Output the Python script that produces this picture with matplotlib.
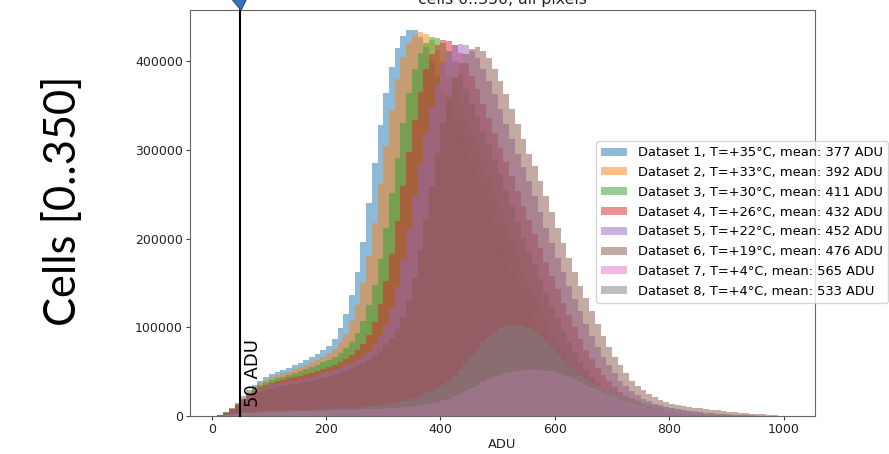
import numpy as np
import matplotlib
matplotlib.use("Agg")
import matplotlib.pyplot as plt
from matplotlib.patches import Polygon

# ---------------- data (pixel counts per 10-ADU bin, bins start at 0,10,...,1000) ----------------
bin_edges = list(range(0, 1011, 10))

ds1 = [0, 1500, 4500, 9000, 15000, 22000, 29000, 35000, 40000, 44000,
       47000, 49500, 52000, 54500, 57000, 60000, 63000, 66500, 70000, 74000,
       79000, 87000, 99000, 115000, 137000, 163000, 196000, 240000, 285000, 328000,
       364000, 394000, 415000, 429000, 436000, 435000, 428000, 416000, 401000, 384000,
       367000, 351000, 335000, 319000, 302000, 285000, 267000, 249000, 231000, 213000,
       196000, 179000, 163000, 147000, 132000, 117000, 103000, 90000, 78000, 67000,
       57000, 48000, 40500, 34000, 28500, 23800, 19800, 16500, 13700, 11300,
       9300, 7700, 6300, 5200, 4200, 3400, 2800, 2200, 1800, 1400,
       1100, 850, 650, 480, 350, 250, 170, 110, 60, 30,
       0, 0, 0, 0, 0, 0, 0, 0, 0, 0, 0]

ds2 = [0, 1400, 4200, 8500, 14000, 20500, 27000, 33000, 37500, 41000,
       43500, 46000, 48000, 50000, 52500, 55000, 57500, 60500, 63500, 67000,
       71000, 76000, 83000, 93000, 107000, 125000, 150000, 180000, 218000, 262000,
       305000, 345000, 380000, 405000, 421000, 430000, 433000, 431000, 424000, 413000,
       399000, 383000, 367000, 351000, 336000, 320000, 303000, 286000, 268000, 250000,
       232000, 214000, 197000, 181000, 165000, 149000, 134000, 119000, 105000, 92000,
       80000, 69000, 59000, 50000, 42000, 35500, 30000, 25000, 21000, 17500,
       14500, 12000, 10000, 8200, 6800, 5600, 4600, 3800, 3100, 2500,
       2000, 1600, 1250, 950, 700, 500, 350, 230, 140, 80,
       40, 0, 0, 0, 0, 0, 0, 0, 0, 0, 0]

ds3 = [0, 1300, 4000, 8000, 13000, 19000, 25000, 30500, 35000, 38000,
       40500, 42500, 44500, 46500, 48500, 50500, 52500, 55000, 57500, 60500,
       63500, 67000, 71500, 77000, 84000, 94000, 107000, 125000, 148000, 177000,
       212000, 251000, 291000, 330000, 364000, 391000, 410000, 421000, 427000, 426000,
       421000, 412000, 400000, 385000, 369000, 352000, 337000, 322000, 306000, 290000,
       273000, 255000, 237000, 219000, 201000, 186000, 170000, 154000, 139000, 124000,
       110000, 96000, 83000, 71000, 61000, 52000, 44000, 37000, 31000, 26000,
       21500, 18000, 15000, 12400, 10300, 8500, 7000, 5800, 4800, 3900,
       3200, 2600, 2100, 1600, 1200, 900, 600, 400, 250, 150,
       80, 40, 0, 0, 0, 0, 0, 0, 0, 0, 0]

ds4 = [0, 1200, 3700, 7500, 12500, 18000, 23500, 28500, 32500, 35500,
       37500, 39500, 41000, 42500, 44000, 45500, 47000, 49000, 51000, 53000,
       55500, 58000, 61000, 64500, 69000, 74500, 81000, 91000, 106000, 126000,
       152000, 183000, 220000, 259000, 298000, 334000, 366000, 391000, 408000, 419000,
       424000, 423000, 418000, 410000, 398000, 384000, 369000, 352000, 336000, 319000,
       302000, 287000, 271000, 254000, 237000, 221000, 205000, 190000, 174000, 158000,
       143000, 128000, 114000, 100000, 87000, 75000, 64000, 54000, 46000, 39000,
       33000, 27500, 23000, 19200, 16000, 13300, 11000, 9100, 7500, 6200,
       5100, 4200, 3400, 2800, 2200, 1700, 1300, 950, 650, 420,
       250, 130, 60, 0, 0, 0, 0, 0, 0, 0, 0]

ds5 = [0, 1100, 3400, 7000, 11800, 17000, 22000, 26500, 30000, 32500,
       34500, 36000, 37500, 39000, 40000, 41500, 43000, 44500, 46000, 48000,
       50000, 52000, 54500, 57000, 60000, 63500, 67500, 72500, 80000, 90000,
       103000, 122000, 147000, 177000, 211000, 248000, 284000, 318000, 349000, 376000,
       397000, 411000, 418000, 420000, 418000, 412000, 404000, 391000, 378000, 363000,
       346000, 329000, 312000, 296000, 281000, 265000, 248000, 230000, 212000, 195000,
       178000, 162000, 147000, 132000, 118000, 104000, 90000, 78000, 67000, 57000,
       48000, 40000, 33500, 28000, 23500, 19500, 16500, 14000, 12000, 10300,
       8900, 7700, 6600, 5700, 4900, 4200, 3600, 3000, 2500, 2000,
       1600, 1250, 950, 700, 500, 350, 200, 100, 50, 0, 0]

ds6 = [0, 1000, 3100, 6400, 10800, 15500, 20000, 24000, 27000, 29500,
       31000, 32500, 34000, 35000, 36000, 37000, 38000, 39500, 41000, 42500,
       44000, 46000, 48000, 50500, 53000, 56000, 59500, 63500, 68000, 73500,
       80000, 88000, 98000, 112000, 131000, 156000, 187000, 222000, 260000, 297000,
       331000, 360000, 382000, 398000, 408000, 414000, 416000, 412000, 404000, 391000,
       378000, 363000, 346000, 329000, 312000, 296000, 282000, 265000, 248000, 230000,
       212000, 195000, 178000, 162000, 147000, 133000, 118000, 104000, 90000, 78000,
       67000, 57000, 48000, 40000, 34000, 29000, 25000, 21500, 18500, 16000,
       14000, 12500, 11300, 10300, 9400, 8600, 7800, 7000, 6300, 5600,
       5000, 4400, 3800, 3300, 2800, 2300, 1800, 1300, 900, 500, 200]

ds7 = [0, 300, 900, 1600, 2300, 2900, 3400, 3800, 4100, 4300,
       4500, 4700, 4900, 5000, 5200, 5300, 5500, 5700, 5900, 6100,
       6300, 6500, 6700, 6900, 7100, 7300, 7500, 7700, 7900, 8200,
       8600, 9000, 9400, 9900, 10500, 11200, 12000, 13000, 14300, 15800,
       17500, 19500, 22000, 25000, 28500, 32000, 35500, 38500, 41500, 44000,
       46000, 48000, 49500, 50800, 51700, 52200, 52300, 52000, 51300, 50200,
       48700, 46800, 44500, 41800, 38800, 35500, 32000, 29000, 26000, 23500,
       21000, 18500, 16200, 14200, 12400, 10800, 9400, 8200, 7200, 6300,
       5500, 4800, 4200, 3700, 3200, 2800, 2400, 2100, 1800, 1550,
       1300, 1100, 900, 750, 600, 480, 370, 270, 180, 100, 40]

ds8 = [0, 400, 1200, 2100, 3000, 3800, 4400, 4900, 5300, 5600,
       5900, 6100, 6300, 6500, 6700, 6900, 7100, 7300, 7600, 7900,
       8200, 8500, 8800, 9100, 9500, 9900, 10400, 11000, 11700, 12500,
       13500, 14600, 15800, 17200, 18800, 20800, 23000, 25500, 28500, 31800,
       35500, 40000, 45500, 52000, 59500, 67500, 75500, 83000, 89500, 95000,
       99000, 101500, 102800, 103000, 102000, 99500, 95500, 90000, 84000, 77500,
       70500, 63500, 57000, 51000, 46000, 41500, 37500, 34000, 31000, 28500,
       26000, 24000, 22000, 20000, 18000, 16200, 14500, 12900, 11500, 10200,
       9000, 7900, 6900, 6000, 5200, 4500, 3800, 3200, 2700, 2200,
       1800, 1400, 1100, 850, 650, 480, 340, 220, 130, 70, 30]

temperatures = ["+35", "+33", "+30", "+26", "+22", "+19", "+4", "+4"]
means = [377, 392, 411, 432, 452, 476, 565, 533]
series = [ds1, ds2, ds3, ds4, ds5, ds6, ds7, ds8]
threshold = 50
x_ticks = [0, 200, 400, 600, 800, 1000]
y_ticks = [0, 100000, 200000, 300000, 400000]

# ---------------- figure ----------------
W, H = 889, 454
fig = plt.figure(figsize=(W / 100, H / 100), dpi=100)
ax = fig.add_axes([190 / W, 1 - 416 / H, (815 - 190) / W, (416 - 10) / H])

colors = plt.rcParams["axes.prop_cycle"].by_key()["color"]
edges = np.array(bin_edges)
for i, vals in enumerate(series):
    lab = f"Dataset {i + 1}, T={temperatures[i]}°C, mean: {means[i]} ADU"
    ax.hist(edges[:-1], bins=edges, weights=vals, histtype="stepfilled",
            alpha=0.5, color=colors[i], label=lab, linewidth=0)

ax.set_xlim(-38, 1055)
ax.set_ylim(0, 458000)
ax.set_xticks(x_ticks)
ax.set_yticks(y_ticks)
ax.tick_params(labelsize=9, length=2.6, pad=2.6, color="#444444", labelcolor="#222222")
for sp in ax.spines.values():
    sp.set_color("#666666")
    sp.set_linewidth(0.8)

# threshold line extending above the axes
ax.axvline(threshold, ymin=0, ymax=1.03, color="black", lw=1.5, clip_on=False, zorder=6)
ax.text(72, 10600, f"{threshold} ADU", rotation=90, ha="center", va="bottom",
        fontsize=13, color="black", zorder=7)

# title (partly cut by the top edge) and x label
fig.text(502.5 / W, 1 - 4 / H, "cells 0..350, all pixels", ha="center",
         va="baseline", fontsize=11.3, color="#222222")
fig.text(502.5 / W, 1 - 444 / H, "ADU", ha="center", va="center", fontsize=9.4,
         color="#222222")

leg = ax.legend(loc="upper left", bbox_to_anchor=(596 / W, 1 - 141 / H),
                bbox_transform=fig.transFigure, fontsize=9.4, borderaxespad=0,
                labelspacing=0.52, handleheight=0.56, handlelength=2.0,
                handletextpad=0.8, borderpad=0.4)
leg.set_zorder(10)

# slide annotation: big vertical label and blue marker triangle
big = fig.text(63 / W, 1 - 201 / H, "Cells [0..350]", rotation=90, ha="center",
               va="center", fontsize=31, family=["Lato", "DejaVu Sans"], color="black")
fig.canvas.draw()
bb = big.get_window_extent()
big.set_fontsize(31 * 250 / bb.height)

tri_px = [(226, -8), (250, -8), (241, 10)]
tri = Polygon([(x / W, 1 - y / H) for x, y in tri_px], closed=True,
              transform=fig.transFigure, facecolor="#3f6fb5", edgecolor="#2f5597",
              lw=1, zorder=20)
fig.patches.append(tri)

fig.savefig("out.png", dpi=100)
